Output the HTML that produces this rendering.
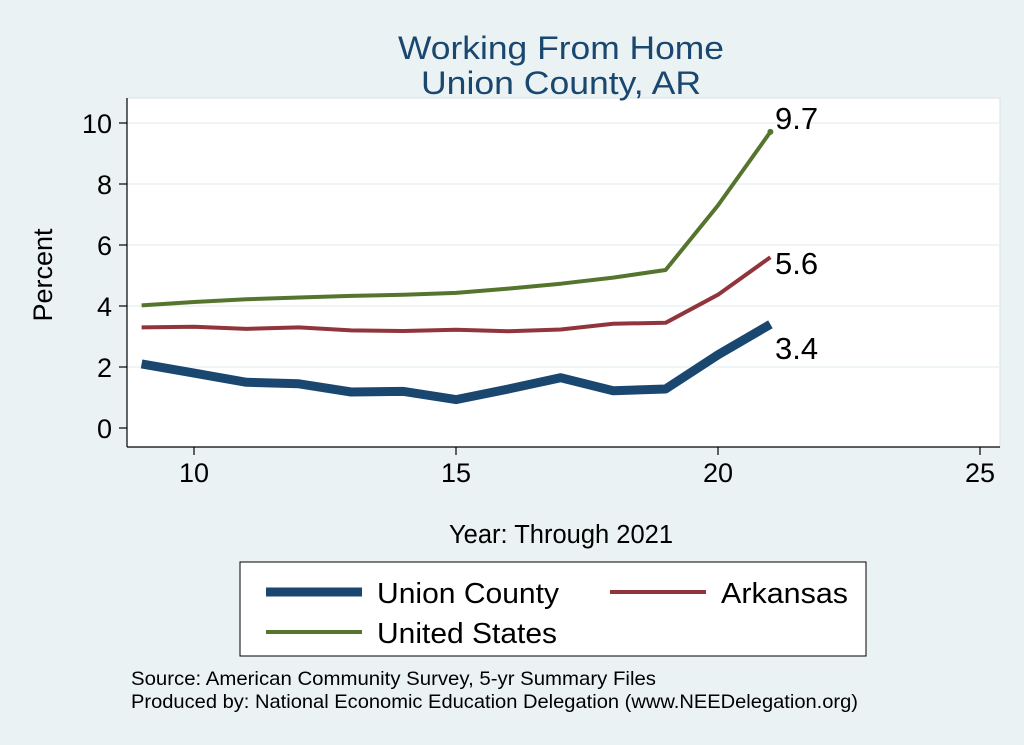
<!DOCTYPE html>
<html><head><style>
body{margin:0;background:#eaf2f3;}
svg{display:block;font-family:"Liberation Sans",Arial,sans-serif;}
</style></head><body>
<svg width="1024" height="745" viewBox="0 0 1024 745" xmlns="http://www.w3.org/2000/svg">
<rect width="1024" height="745" fill="#eaf2f3"/>
<rect x="127" y="98" width="873" height="349" fill="#fff" stroke="#d8e2e6" stroke-width="1"/>
<text x="561" y="59" font-size="32.5" fill="#1a476f" text-anchor="middle" textLength="326" lengthAdjust="spacingAndGlyphs">Working From Home</text>
<text x="561" y="94" font-size="32.5" fill="#1a476f" text-anchor="middle" textLength="280" lengthAdjust="spacingAndGlyphs">Union County, AR</text>
<g stroke="#eaf2f3" stroke-width="1.5">
<line x1="127" x2="1000" y1="367" y2="367"/><line x1="127" x2="1000" y1="306" y2="306"/>
<line x1="127" x2="1000" y1="245" y2="245"/><line x1="127" x2="1000" y1="184" y2="184"/>
<line x1="127" x2="1000" y1="123" y2="123"/>
</g>
<g stroke="#000" stroke-width="1.2">
<line x1="127" y1="98" x2="127" y2="447"/><line x1="127" y1="447" x2="1000" y2="447"/>
<line x1="119" x2="127" y1="428" y2="428"/><line x1="119" x2="127" y1="367" y2="367"/><line x1="119" x2="127" y1="306" y2="306"/><line x1="119" x2="127" y1="245" y2="245"/><line x1="119" x2="127" y1="184" y2="184"/><line x1="119" x2="127" y1="123" y2="123"/>
<line x1="194" x2="194" y1="447" y2="455"/><line x1="456" x2="456" y1="447" y2="455"/><line x1="718" x2="718" y1="447" y2="455"/><line x1="980" x2="980" y1="447" y2="455"/>
</g>
<g font-size="27" text-anchor="end" fill="#000">
<text x="112" y="438">0</text><text x="112" y="377">2</text><text x="112" y="316">4</text><text x="112" y="255">6</text><text x="112" y="194">8</text><text x="112" y="133">10</text>
</g>
<g font-size="27" text-anchor="middle">
<text x="194" y="482">10</text><text x="456" y="482">15</text><text x="718" y="482">20</text><text x="980" y="482">25</text>
</g>
<text transform="translate(52,275) rotate(-90)" font-size="27" text-anchor="middle">Percent</text>
<text x="561" y="543" font-size="25.5" text-anchor="middle">Year: Through 2021</text>
<g fill="none" stroke-linejoin="round">
<polyline stroke="#55752f" stroke-width="4" points="141.6,305.4 194,302.0 246.4,299.3 298.8,297.5 351.2,295.9 403.6,294.7 456,292.9 508.4,288.6 560.8,283.7 613.2,277.6 665.6,270.0 718,205.4 770.4,131.9"/>
<polyline stroke="#90353b" stroke-width="4" points="141.6,327.4 194,326.8 246.4,328.9 298.8,327.4 351.2,330.4 403.6,331.0 456,329.8 508.4,331.3 560.8,329.5 613.2,323.7 665.6,322.8 718,294.7 770.4,257.2"/>
<polyline stroke="#1a476f" stroke-width="9" points="141.6,363.9 194,373.1 246.4,382.3 298.8,383.8 351.2,392.0 403.6,391.4 456,399.6 508.4,389.0 560.8,377.7 613.2,390.8 665.6,389.0 718,354.8 770.4,324.3"/>
</g>
<circle cx="770.4" cy="131.9" r="3" fill="#55752f"/>
<g font-size="31"><text x="775" y="129">9.7</text><text x="775" y="274">5.6</text><text x="775" y="359">3.4</text></g>
<rect x="240" y="562" width="626" height="94" fill="#fff" stroke="#000" stroke-width="1"/>
<line x1="266" x2="362" y1="592" y2="592" stroke="#1a476f" stroke-width="9"/>
<text x="377" y="603" font-size="29" textLength="182" lengthAdjust="spacingAndGlyphs">Union County</text>
<line x1="610" x2="706" y1="592" y2="592" stroke="#90353b" stroke-width="4"/>
<text x="721" y="603" font-size="29" textLength="127" lengthAdjust="spacingAndGlyphs">Arkansas</text>
<line x1="266" x2="362" y1="632" y2="632" stroke="#55752f" stroke-width="4"/>
<text x="377" y="643" font-size="29" textLength="180" lengthAdjust="spacingAndGlyphs">United States</text>
<text x="131" y="685" font-size="19.5" textLength="525" lengthAdjust="spacingAndGlyphs">Source: American Community Survey, 5-yr Summary Files</text>
<text x="131" y="708" font-size="19.5" textLength="727" lengthAdjust="spacingAndGlyphs">Produced by: National Economic Education Delegation (www.NEEDelegation.org)</text>
</svg>
</body></html>
